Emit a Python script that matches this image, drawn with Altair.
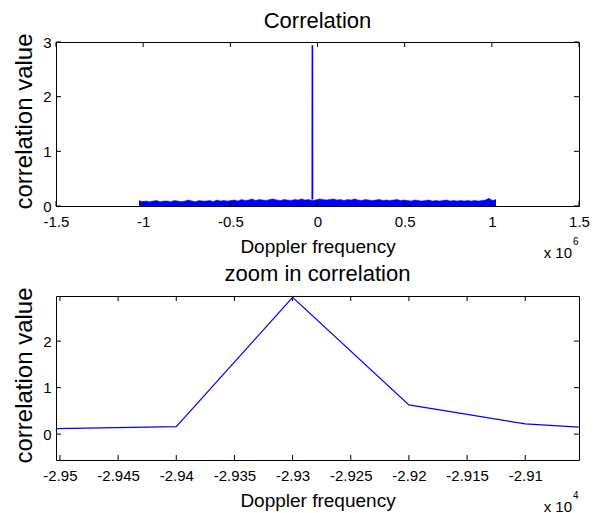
import altair as alt
import pandas as pd
import numpy as np

F = "Liberation Sans"
BLUE = "#0000FF"
W, H = 523, 164

# ---------------- data ----------------
# top panel: noise envelope (x in units of 1e6 Hz)
noise_x_start, noise_x_end = -1.024, 1.024
noise_env = [
    0.10, 0.08, 0.09, 0.08, 0.09, 0.10, 0.08, 0.09, 0.09, 0.08, 0.10, 0.09, 0.08,
    0.09, 0.11, 0.09, 0.08, 0.10, 0.09, 0.09, 0.10, 0.08, 0.11, 0.09, 0.10, 0.09,
    0.10, 0.11, 0.09, 0.12, 0.10, 0.11, 0.13, 0.10, 0.12, 0.11, 0.10, 0.12, 0.13,
    0.11, 0.10, 0.12, 0.11, 0.10, 0.12, 0.11, 0.13, 0.11, 0.12, 0.10, 0.11,
    0.13, 0.12, 0.11, 0.12, 0.13, 0.11, 0.12, 0.10, 0.12, 0.11, 0.13, 0.11, 0.10,
    0.12, 0.11, 0.10, 0.11, 0.12, 0.10, 0.11, 0.10, 0.11, 0.12, 0.10, 0.11,
    0.10, 0.09, 0.11, 0.10, 0.09, 0.10, 0.11, 0.09, 0.10, 0.09, 0.10, 0.11, 0.09,
    0.10, 0.09, 0.10, 0.09, 0.10, 0.09, 0.10, 0.09, 0.10, 0.11, 0.14, 0.10, 0.12,
]
spike_x = [-0.0300, -0.0293, -0.0286]
spike_y = [0.12, 2.94, 0.13]

# bottom panel (x in units of 1e4 Hz)
zoom_x = [-2.95034, -2.94, -2.93, -2.92, -2.91, -2.90538]
zoom_y = [0.12, 0.16, 2.94, 0.63, 0.22, 0.15]

top_xticks = [-1.5, -1, -0.5, 0, 0.5, 1, 1.5]
top_yticks = [0, 1, 2, 3]
bot_xticks = [-2.95, -2.945, -2.94, -2.935, -2.93, -2.925, -2.92, -2.915, -2.91]
bot_yticks = [0, 1, 2]
top_xdomain = [-1.5, 1.5]
top_ydomain = [0, 3]
bot_xdomain = [-2.95034, -2.90538]
bot_ydomain = [-0.556, 2.97]
exponents = ["6", "4"]
titles = ["Correlation", "zoom in correlation"]
xlabel = "Doppler frequency"
ylabel = "correlation value"

df_noise = pd.DataFrame({
    "x": np.linspace(noise_x_start, noise_x_end, len(noise_env)),
    "y": noise_env,
})
df_spike = pd.DataFrame({"x": spike_x, "y": spike_y})
df_zoom = pd.DataFrame({"x": zoom_x, "y": zoom_y})


def axis_x(values):
    return alt.Axis(values=values, title=xlabel, labelExpr="toString(datum.value)",
                    domain=False, ticks=False, grid=False, labelFont=F, labelFontSize=15,
                    labelColor="black", labelPadding=8, labelFlush=False,
                    titleFont=F, titleFontSize=19, titleFontWeight="normal",
                    titleColor="black", titleBaseline="alphabetic", titleY=46)


def axis_y(values):
    return alt.Axis(values=values, title=ylabel, labelExpr="toString(datum.value)",
                    domain=False, ticks=False, grid=False, labelFont=F, labelFontSize=15,
                    labelColor="black", labelPadding=5, labelFlush=False,
                    titleFont=F, titleFontSize=24, titleFontWeight="normal",
                    titleColor="black", titleBaseline="alphabetic", titleX=-25,
                    titleY=79, titleAngle=270, titleAlign="center")


def ticks_layers(xt, yt, xs, ys, ax, ay):
    dx = pd.DataFrame({"x": xt})
    dy = pd.DataFrame({"y": yt})
    rx = alt.X("x:Q", scale=xs, axis=ax)
    ry = alt.Y("y:Q", scale=ys, axis=ay)
    r1 = alt.Chart(dx).mark_rule(color="black", strokeWidth=1).encode(
        x=rx, y=alt.value(H), y2=alt.value(H - 5))
    r2 = alt.Chart(dx).mark_rule(color="black", strokeWidth=1).encode(
        x=rx, y=alt.value(0), y2=alt.value(5))
    r3 = alt.Chart(dy).mark_rule(color="black", strokeWidth=1).encode(
        y=ry, x=alt.value(0), x2=alt.value(5))
    r4 = alt.Chart(dy).mark_rule(color="black", strokeWidth=1).encode(
        y=ry, x=alt.value(W), x2=alt.value(W - 5))
    return [r1, r2, r3, r4]


def exp_layers(exp):
    d1 = pd.DataFrame({"t": ["x 10"]})
    d2 = pd.DataFrame({"t": [exp]})
    t1 = alt.Chart(d1).mark_text(font=F, fontSize=15, color="black", align="right",
                                 baseline="alphabetic").encode(
        x=alt.value(W - 7), y=alt.value(H + 52), text="t:N")
    t2 = alt.Chart(d2).mark_text(font=F, fontSize=10, color="black", align="left",
                                 baseline="alphabetic").encode(
        x=alt.value(W - 6), y=alt.value(H + 39), text="t:N")
    return [t1, t2]


def mk_title(t, off):
    return alt.Title(t, font=F, fontSize=22, fontWeight="normal", color="black",
                     anchor="middle", baseline="alphabetic", offset=off, frame="group")


# ---------------- top panel ----------------
xs_top = alt.Scale(domain=top_xdomain, nice=False, zero=False)
ys_top = alt.Scale(domain=top_ydomain, nice=False, zero=False)
ax_top = axis_x(top_xticks)
ay_top = axis_y(top_yticks)

area = alt.Chart(df_noise).mark_area(color=BLUE, opacity=1,
                                     line={"color": BLUE, "strokeWidth": 0.5}).encode(
    x=alt.X("x:Q", scale=xs_top, axis=ax_top),
    y=alt.Y("y:Q", scale=ys_top, axis=ay_top),
)
spike = alt.Chart(df_spike).mark_line(color=BLUE, strokeWidth=1.6).encode(
    x=alt.X("x:Q", scale=xs_top, axis=ax_top),
    y=alt.Y("y:Q", scale=ys_top, axis=ay_top),
)
top = alt.layer(area, spike,
                *ticks_layers(top_xticks, top_yticks, xs_top, ys_top, ax_top, ay_top),
                *exp_layers(exponents[0])).properties(width=W, height=H, title=mk_title(titles[0], -17.5))

# ---------------- bottom panel ----------------
xs_bot = alt.Scale(domain=bot_xdomain, nice=False, zero=False)
ys_bot = alt.Scale(domain=bot_ydomain, nice=False, zero=False)
ax_bot = axis_x(bot_xticks)
ay_bot = axis_y(bot_yticks)

line = alt.Chart(df_zoom).mark_line(color=BLUE, strokeWidth=1.2).encode(
    x=alt.X("x:Q", scale=xs_bot, axis=ax_bot),
    y=alt.Y("y:Q", scale=ys_bot, axis=ay_bot),
)
bottom = alt.layer(line,
                   *ticks_layers(bot_xticks, bot_yticks, xs_bot, ys_bot, ax_bot, ay_bot),
                   *exp_layers(exponents[1])).properties(width=W, height=H, title=mk_title(titles[1], -16.5))

chart = alt.vconcat(top, bottom, spacing=0).properties(
    padding={"left": 3, "top": 1, "right": 0, "bottom": 0},
    background="white",
).configure_view(stroke="black", strokeWidth=1)

chart.save("out.html", embed_options={"renderer": "svg", "actions": False})
